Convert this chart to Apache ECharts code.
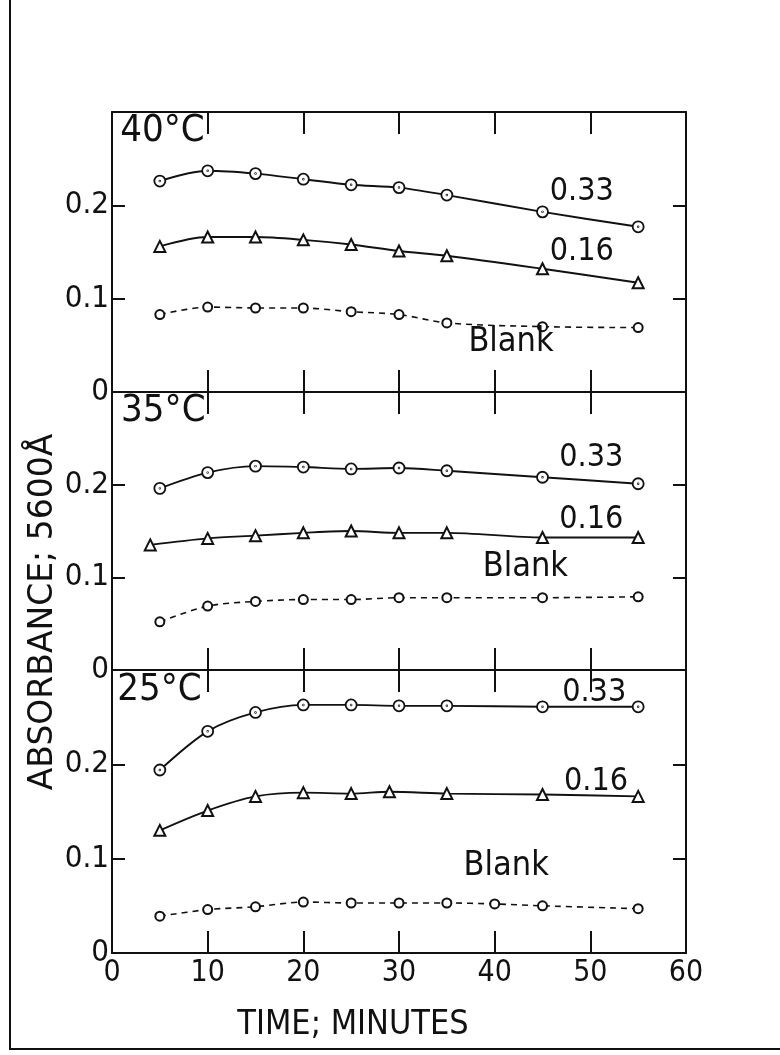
<!DOCTYPE html>
<html>
<head>
<meta charset="utf-8">
<script src="https://cdn.jsdelivr.net/npm/echarts@6.0.0/dist/echarts.min.js"></script>
<style>
  html, body { margin: 0; padding: 0; background: #fff; }
  #chart { width: 780px; height: 1055px; }
</style>
</head>
<body>
<div id="chart"></div>
<script>
// time (minutes) of each reading
const timeStd = [5, 10, 15, 20, 25, 30, 35, 45, 55];
const time35Low = [4, 10, 15, 20, 25, 30, 35, 45, 55];
const time25Low = [5, 10, 15, 20, 25, 29, 35, 45, 55];
const time25Blank = [5, 10, 15, 20, 25, 30, 35, 40, 45, 55];

// absorbance at 5600 A
const abs40High = [0.226, 0.237, 0.234, 0.228, 0.222, 0.219, 0.211, 0.193, 0.177];
const abs40Low = [0.156, 0.166, 0.166, 0.163, 0.158, 0.151, 0.146, 0.132, 0.117];
const abs40Blank = [0.083, 0.091, 0.090, 0.090, 0.086, 0.083, 0.074, 0.070, 0.069];

const abs35High = [0.196, 0.213, 0.220, 0.219, 0.217, 0.218, 0.215, 0.208, 0.201];
const abs35Low = [0.135, 0.142, 0.145, 0.148, 0.150, 0.148, 0.148, 0.143, 0.143];
const abs35Blank = [0.052, 0.069, 0.074, 0.076, 0.076, 0.078, 0.078, 0.078, 0.079];

const abs25High = [0.194, 0.235, 0.255, 0.263, 0.263, 0.262, 0.262, 0.261, 0.261];
const abs25Low = [0.130, 0.151, 0.166, 0.170, 0.169, 0.171, 0.169, 0.168, 0.166];
const abs25Blank = [0.039, 0.046, 0.049, 0.054, 0.053, 0.053, 0.053, 0.052, 0.050, 0.047];

const temps = ['40°C', '35°C', '25°C'];
const concs = ['0.33', '0.16', 'Blank'];
const yTickLabels = ['0', '0.1', '0.2', ''];

const panelTimes = [
  [timeStd, timeStd, timeStd],
  [timeStd, time35Low, timeStd],
  [timeStd, time25Low, time25Blank],
];
const panelValues = [
  [abs40High, abs40Low, abs40Blank],
  [abs35High, abs35Low, abs35Blank],
  [abs25High, abs25Low, abs25Blank],
];

// where the lettering sits, in each panel's own units
const tempLabelAt = [[0.8, 0.279], [0.9, 0.279], [0.5, 0.279]];
const concLabelAt = [
  [[45.7, 0.215], [45.7, 0.150], [37.2, 0.053]],
  [[46.7, 0.229], [46.7, 0.162], [38.7, 0.111]],
  [[47.0, 0.276], [47.2, 0.182], [36.7, 0.092]],
];

const INK = '#111';
const NARROW = '"DejaVu Sans Condensed", "DejaVu Sans", sans-serif';
const DOT_CIRCLE = 'path://M10,0A10,10,0,1,1,10,20A10,10,0,1,1,10,0ZM10,9.4A0.6,0.6,0,1,1,10,10.6A0.6,0.6,0,1,1,10,9.4Z';

const gridTops = [112, 392, 670];
const gridHeights = [280, 278, 283];

const chart = echarts.init(document.getElementById('chart'));

const grid = [];
const xAxis = [];
const yAxis = [];
const series = [];

const axisLine = { show: true, onZero: false, lineStyle: { color: INK, width: 2 } };

for (let p = 0; p < 3; p++) {
  grid.push({ left: 112, width: 574, top: gridTops[p], height: gridHeights[p] });

  const timeAxis = {
    type: 'value', gridIndex: p, min: 0, max: 60, interval: 10,
    axisLine: axisLine,
    axisTick: { show: true, inside: true, length: 22, lineStyle: { color: INK, width: 2 } },
    splitLine: { show: false },
  };
  xAxis.push(Object.assign({}, timeAxis, {
    position: 'bottom',
    axisLabel: { show: p === 2, margin: 5, color: INK, fontFamily: NARROW, fontSize: 30 },
  }));
  xAxis.push(Object.assign({}, timeAxis, { position: 'top', axisLabel: { show: false } }));

  const absAxis = {
    type: 'value', gridIndex: p, min: 0, max: 0.3, interval: 0.1,
    axisLine: axisLine,
    axisTick: { show: true, inside: true, length: 13, lineStyle: { color: INK, width: 2 } },
    splitLine: { show: false },
  };
  yAxis.push(Object.assign({}, absAxis, {
    position: 'left',
    axisLabel: {
      show: true, margin: 3, color: INK, fontFamily: NARROW, fontSize: 31,
      padding: [0, 0, 12, 0],
      formatter: (v) => yTickLabels[Math.round(v * 10)],
    },
  }));
  yAxis.push(Object.assign({}, absAxis, { position: 'right', axisLabel: { show: false } }));

  for (let s = 0; s < 3; s++) {
    const times = panelTimes[p][s];
    const vals = panelValues[p][s];
    const blank = s === 2;
    const marks = [{
      name: concs[s], coord: concLabelAt[p][s],
      label: blank ? { fontSize: 34 } : {},
    }];
    if (s === 0) {
      marks.push({ name: temps[p], coord: tempLabelAt[p], label: { fontSize: 38 } });
    }
    series.push({
      type: 'line',
      name: temps[p] + ' ' + concs[s],
      xAxisIndex: p * 2,
      yAxisIndex: p * 2,
      data: times.map((t, i) => [t, vals[i]]),
      smooth: 0.3,
      symbol: s === 0 ? DOT_CIRCLE : (s === 1 ? 'emptyTriangle' : 'emptyCircle'),
      symbolSize: s === 0 ? 11 : (s === 1 ? 11 : 9),
      itemStyle: s === 0
        ? { color: '#fff', borderColor: INK, borderWidth: 1.8 }
        : { color: INK, borderWidth: 1.8 },
      lineStyle: { color: INK, width: blank ? 1.6 : 1.9, type: blank ? [6, 5] : 'solid' },
      markPoint: {
        symbol: 'circle', symbolSize: 1,
        itemStyle: { color: 'transparent' },
        label: {
          show: true, position: 'right', distance: 0, formatter: '{b}',
          color: INK, fontFamily: NARROW, fontSize: 32,
        },
        data: marks,
      },
    });
  }
}

chart.setOption({
  animation: false,
  backgroundColor: '#fff',
  grid: grid,
  xAxis: xAxis,
  yAxis: yAxis,
  series: series,
  graphic: [
    {
      type: 'text', x: 353, y: 1025,
      style: { text: 'TIME; MINUTES', fill: INK, font: '34px ' + NARROW, align: 'center', verticalAlign: 'middle' },
    },
    {
      type: 'text', x: 43, y: 612, rotation: Math.PI / 2,
      style: { text: 'ABSORBANCE; 5600Å', fill: INK, font: '33px "DejaVu Sans", sans-serif', align: 'center', verticalAlign: 'middle' },
    },
    {
      type: 'polyline',
      shape: { points: [[10, 0], [10, 1049], [780, 1049]] },
      style: { stroke: INK, lineWidth: 2, fill: null },
    },
  ],
});
</script>
</body>
</html>
